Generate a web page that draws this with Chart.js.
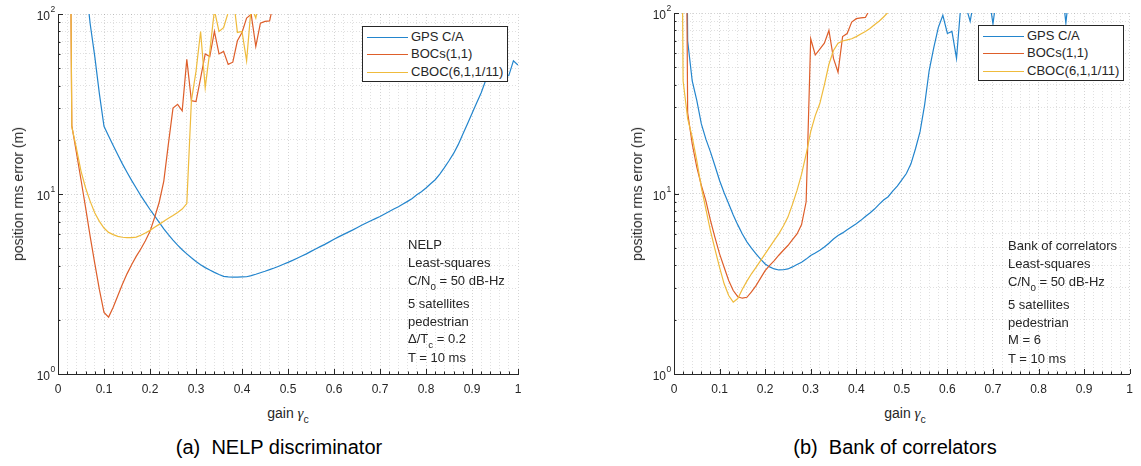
<!DOCTYPE html>
<html lang="en">
<head>
  <meta charset="UTF-8">
  <title>Position rms error vs gain</title>
  <style>
    body { margin: 0; background: #fff; font-family: 'Liberation Sans', Arial, sans-serif; color: #262626; }
    #page { position: relative; width: 1141px; height: 466px; overflow: hidden; }
    canvas { position: absolute; top: 0; }
    .ytitle { position: absolute; font-size: 14px; white-space: nowrap; transform: translate(-50%, -50%) rotate(-90deg); }
    .xtitle { position: absolute; font-size: 14px; white-space: nowrap; transform: translate(-50%, -50%); }
    .gamma { font-family: 'Liberation Serif', serif; font-style: italic; font-size: 15px; }
    .caption { position: absolute; font-size: 20px; color: #000; white-space: nowrap; transform: translate(-50%, -50%); }
    .legend { position: absolute; background: #fff; border: 1px solid #262626; font-size: 13px; box-sizing: border-box; }
    .legend .row { position: absolute; left: 0; height: 16px; line-height: 16px; white-space: nowrap; }
    .legend .swatch { position: absolute; left: 4px; top: 8px; width: 41px; height: 0; border-top: 1px solid; }
    .legend .name { position: absolute; left: 48px; top: 0; }
    .notes { position: absolute; font-size: 13px; }
    .notes div { position: absolute; left: 0; height: 18px; line-height: 18px; white-space: nowrap; }
    sub { font-size: 75%; vertical-align: -5px; line-height: 0; }
  </style>
</head>
<body>
<div id="page">
  <canvas id="chartA" width="570" height="400" style="left:0"></canvas>
  <canvas id="chartB" width="571" height="400" style="left:570px"></canvas>
</div>

<script src="https://cdn.jsdelivr.net/npm/chart.js"></script>
<script>
  // gain grid (x), one value every 0.01
  const gain = [
    0.01, 0.02, 0.03, 0.04, 0.05, 0.06, 0.07, 0.08, 0.09, 0.10,
    0.11, 0.12, 0.13, 0.14, 0.15, 0.16, 0.17, 0.18, 0.19, 0.20,
    0.21, 0.22, 0.23, 0.24, 0.25, 0.26, 0.27, 0.28, 0.29, 0.30,
    0.31, 0.32, 0.33, 0.34, 0.35, 0.36, 0.37, 0.38, 0.39, 0.40,
    0.41, 0.42, 0.43, 0.44, 0.45, 0.46, 0.47, 0.48, 0.49, 0.50,
    0.51, 0.52, 0.53, 0.54, 0.55, 0.56, 0.57, 0.58, 0.59, 0.60,
    0.61, 0.62, 0.63, 0.64, 0.65, 0.66, 0.67, 0.68, 0.69, 0.70,
    0.71, 0.72, 0.73, 0.74, 0.75, 0.76, 0.77, 0.78, 0.79, 0.80,
    0.81, 0.82, 0.83, 0.84, 0.85, 0.86, 0.87, 0.88, 0.89, 0.90,
    0.91, 0.92, 0.93, 0.94, 0.95, 0.96, 0.97, 0.98, 0.99, 1.00
  ];

  // (a) NELP discriminator - position rms error (m)
  const nelpGps = [
    null, null, null, null, null, 150, 88, 58, 36, 23.8,
    21, 18.6, 16.5, 14.7, 13.2, 11.9, 10.8, 9.8, 8.95, 8.2,
    7.55, 6.95, 6.4, 5.95, 5.55, 5.2, 4.9, 4.65, 4.42, 4.22,
    4.05, 3.9, 3.78, 3.67, 3.57, 3.49, 3.46, 3.45, 3.45, 3.46,
    3.47, 3.52, 3.58, 3.65, 3.72, 3.8, 3.88, 3.97, 4.07, 4.17,
    4.28, 4.4, 4.52, 4.65, 4.8, 4.95, 5.1, 5.25, 5.42, 5.6,
    5.78, 5.95, 6.12, 6.3, 6.5, 6.7, 6.9, 7.1, 7.3, 7.5,
    7.75, 8.0, 8.25, 8.5, 8.8, 9.1, 9.45, 9.9, 10.3, 10.8,
    11.4, 12.0, 12.9, 14.0, 15.3, 16.8, 18.8, 21.5, 24.5, 28,
    32, 36.5, 43, 48, 51, 48, 45, 45.5, 55, 52
  ];
  const nelpBoc = [
    null, 1e5, 24, 17, 12, 8.4, 5.8, 4.1, 2.94, 2.2,
    2.07, 2.35, 2.72, 3.15, 3.6, 4.05, 4.5, 4.95, 5.5, 6.2,
    7.4, 9.0, 11.8, 19, 30, 31.5, 29, 56, 33, 32.6,
    44, 60, 58, 80, 60, 62, 52.5, 54, 71, 79,
    95, 99.5, 66, 89, 91, 91.5, 120, 200
  ];
  const nelpCboc = [
    null, 1e5, 23.6, 18, 13.4, 10.8, 9.1, 7.84, 7.05, 6.47,
    6.12, 5.95, 5.82, 5.75, 5.72, 5.72, 5.76, 5.9, 6.07, 6.28,
    6.53, 6.78, 7.05, 7.33, 7.6, 7.9, 8.25, 8.85, 33, 48,
    80, 39, 62, 105, 80, 84, 102, 130, 79, 80,
    55, 110, 95, 130, 200
  ];

  // (b) Bank of correlators - position rms error (m)
  const bankGps = [
    null, 1e5, 70, 42, 32.8, 24.3, 20, 17, 14.2, 11.8,
    10.1, 8.77, 7.6, 6.7, 5.97, 5.4, 4.98, 4.63, 4.33, 4.07,
    3.92, 3.82, 3.77, 3.78, 3.82, 3.92, 4.04, 4.16, 4.33, 4.53,
    4.68, 4.85, 5.05, 5.3, 5.6, 5.85, 6.05, 6.3, 6.55, 6.8,
    7.1, 7.45, 7.8, 8.2, 8.7, 9.2, 9.6, 10.3, 11.0, 11.9,
    12.9, 14.6, 17.7, 22, 31, 48, 64, 83, 97, 77,
    79, 56, 115, 110, 90, 125, 150, 140, 130, 87,
    135, 160, 180, 200, 190, 170, 200, 220, 190, 180,
    200, 170, 160, 180, 150, 88, 150, 190, 210, 200,
    230, 200, 190, 220, 240, 210, 230, 250, 220, 240
  ];
  const bankBoc = [
    null, 1e5, 28, 18.8, 14, 11.1, 9.1, 7.1, 5.7, 4.63,
    3.9, 3.3, 2.9, 2.68, 2.63, 2.66, 2.85, 3.09, 3.4, 3.74,
    4.0, 4.25, 4.55, 4.85, 5.15, 5.55, 5.97, 6.73, 9, 72,
    58.5, 63, 68, 80, 56, 47, 74, 77, 89, 93,
    94, 94.5, 105, 150
  ];
  const bankCboc = [
    1e5, 42, 26, 20.5, 15.2, 10.8, 8.2, 6.2, 4.9, 3.9,
    3.16, 2.72, 2.5, 2.62, 2.95, 3.27, 3.59, 3.9, 4.25, 4.63,
    5.05, 5.5, 5.98, 6.6, 7.4, 8.7, 10.4, 12.8, 16.5, 22,
    27, 31.5, 40, 52, 62, 68, 70, 71, 72, 74,
    76.5, 79, 82, 86, 90, 95, 101, 108
  ];

  const seriesNames = ['GPS C/A', 'BOCs(1,1)', 'CBOC(6,1,1/11)'];
  const seriesColors = ['#2385cd', '#de5e2a', '#efbb3c'];

  // axis ticks
  const xMajor = [0, 0.1, 0.2, 0.3, 0.4, 0.5, 0.6, 0.7, 0.8, 0.9, 1];
  const xTickLabels = ['0', '0.1', '0.2', '0.3', '0.4', '0.5', '0.6', '0.7', '0.8', '0.9', '1'];
  const yTicks = [1, 2, 3, 4, 5, 6, 7, 8, 9, 10, 20, 30, 40, 50, 60, 70, 80, 90, 100];
  const yMajor = [1, 10, 100];
  const yExponents = ['0', '1', '2'];

  const notesA = ['NELP', 'Least-squares', 'C/N<sub>0</sub> = 50 dB-Hz', '5 satellites', 'pedestrian', '\u0394/T<sub>c</sub> = 0.2', 'T = 10 ms'];
  const notesB = ['Bank of correlators', 'Least-squares', 'C/N<sub>0</sub> = 50 dB-Hz', '5 satellites', 'pedestrian', 'M = 6', 'T = 10 ms'];

  const FONT = "'Liberation Sans', Arial, sans-serif";
  Chart.defaults.font.family = FONT;

  function points(ys) {
    return ys.map((y, i) => ({ x: gain[i], y })).filter(p => p.y !== null);
  }

  // x grid: majors plus 4 minors in between
  const xGrid = [];
  xMajor.forEach((v, i) => {
    xGrid.push(v);
    if (i < xMajor.length - 1) for (let k = 1; k < 5; k++) xGrid.push(+(v + k * 0.02).toFixed(2));
  });

  function isMajorX(v) { return xMajor.some(m => Math.abs(m - v) < 1e-9); }
  function isMajorY(v) { return yMajor.includes(v); }

  // MATLAB style ticks pointing into the axes + "10^n" labels
  const matlabAxes = {
    id: 'matlabAxes',
    afterDraw(chart) {
      const { ctx, chartArea, scales } = chart;
      ctx.save();
      ctx.strokeStyle = '#262626';
      ctx.lineWidth = 1;
      ctx.beginPath();
      scales.x.ticks.forEach(t => {
        const px = Math.round(scales.x.getPixelForValue(t.value)) + 0.5;
        const len = isMajorX(t.value) ? 5 : 2.5;
        ctx.moveTo(px, chartArea.bottom);
        ctx.lineTo(px, chartArea.bottom - len);
      });
      scales.y.ticks.forEach(t => {
        const py = Math.round(scales.y.getPixelForValue(t.value)) + 0.5;
        const len = isMajorY(t.value) ? 5 : 2.5;
        ctx.moveTo(chartArea.left, py);
        ctx.lineTo(chartArea.left + len, py);
      });
      ctx.stroke();

      ctx.fillStyle = '#262626';
      ctx.textBaseline = 'middle';
      yMajor.forEach((v, i) => {
        const py = scales.y.getPixelForValue(v);
        ctx.font = '12px ' + FONT;
        ctx.textAlign = 'right';
        ctx.fillText('10', chartArea.left - 8, py + 3);
        ctx.font = '8.5px ' + FONT;
        ctx.textAlign = 'left';
        ctx.fillText(yExponents[i], chartArea.left - 7.5, py - 4);
      });
      ctx.restore();
    }
  };

  function makeChart(id, series, pad, yWidth) {
    return new Chart(document.getElementById(id), {
      type: 'line',
      data: {
        datasets: series.map((ys, i) => ({
          label: seriesNames[i],
          data: points(ys),
          borderColor: seriesColors[i],
          borderWidth: 1.2,
          pointRadius: 0,
          tension: 0,
          fill: false,
          order: 3 - i
        }))
      },
      options: {
        responsive: false,
        animation: false,
        events: [],
        layout: { padding: pad },
        plugins: { legend: { display: false }, tooltip: { enabled: false } },
        scales: {
          x: {
            type: 'linear', min: 0, max: 1,
            afterBuildTicks: s => { s.ticks = xGrid.map(v => ({ value: v })); },
            afterFit: s => { s.height = 26; },
            ticks: {
              autoSkip: false, maxRotation: 0, padding: 8, color: '#262626',
              font: { size: 12 },
              callback: v => {
                const i = xMajor.findIndex(m => Math.abs(m - v) < 1e-9);
                return i >= 0 ? xTickLabels[i] : '';
              }
            },
            grid: {
              drawTicks: false,
              color: c => isMajorX(c.tick.value) ? 'rgba(0,0,0,0.17)' : 'rgba(0,0,0,0.12)'
            },
            border: { display: true, color: '#262626', width: 1, dash: [1, 2] }
          },
          y: {
            type: 'logarithmic', min: 1, max: 100,
            afterBuildTicks: s => { s.ticks = yTicks.map(v => ({ value: v })); },
            afterFit: s => { s.width = yWidth; },
            ticks: { display: false, autoSkip: false },
            grid: {
              drawTicks: false,
              color: c => isMajorY(c.tick.value) ? 'rgba(0,0,0,0.17)' : 'rgba(0,0,0,0.12)'
            },
            border: { display: true, color: '#262626', width: 1, dash: [1, 2] }
          }
        }
      },
      plugins: [matlabAxes]
    });
  }

  makeChart('chartA', [nelpGps, nelpBoc, nelpCboc], { top: 14, right: 52, left: 0, bottom: 0 }, 58);
  makeChart('chartB', [bankGps, bankBoc, bankCboc], { top: 13, right: 6, left: 0, bottom: 0 }, 104);

  // text overlays
  const page = document.getElementById('page');
  function addEl(cls, html, left, top) {
    const el = document.createElement('div');
    el.className = cls;
    el.innerHTML = html;
    el.style.left = left + 'px';
    el.style.top = top + 'px';
    page.appendChild(el);
    return el;
  }

  function addLegend(left, top) {
    const box = addEl('legend', '', left, top);
    box.style.width = '146px';
    box.style.height = '56px';
    const rowTops = [2, 19, 37];
    seriesNames.forEach((name, i) => {
      const row = document.createElement('div');
      row.className = 'row';
      row.style.top = rowTops[i] + 'px';
      row.innerHTML = '<span class="swatch" style="border-top-color:' + seriesColors[i] + '"></span><span class="name">' + name + '</span>';
      box.appendChild(row);
    });
  }

  function addNotes(lines, left, top) {
    const box = addEl('notes', '', left, top);
    const rowTops = [0, 17.5, 35.5, 58.5, 76.5, 93.5, 112.5];
    lines.forEach((t, i) => {
      const d = document.createElement('div');
      d.innerHTML = t;
      d.style.top = rowTops[i] + 'px';
      box.appendChild(d);
    });
  }

  const xTitle = 'gain <span class="gamma">\u03b3</span><sub>c</sub>';
  const yTitle = 'position rms error (m)';

  addEl('ytitle', yTitle, 18, 194);
  addEl('xtitle', xTitle, 288, 413);
  addEl('caption', '(a)&nbsp; NELP discriminator', 279, 447);
  addLegend(362, 26);
  addNotes(notesA, 408, 236);

  addEl('ytitle', yTitle, 637, 194);
  addEl('xtitle', xTitle, 905, 413);
  addEl('caption', '(b)&nbsp; Bank of correlators', 895, 447);
  addLegend(978, 25);
  addNotes(notesB, 1008, 237);
</script>
</body>
</html>
